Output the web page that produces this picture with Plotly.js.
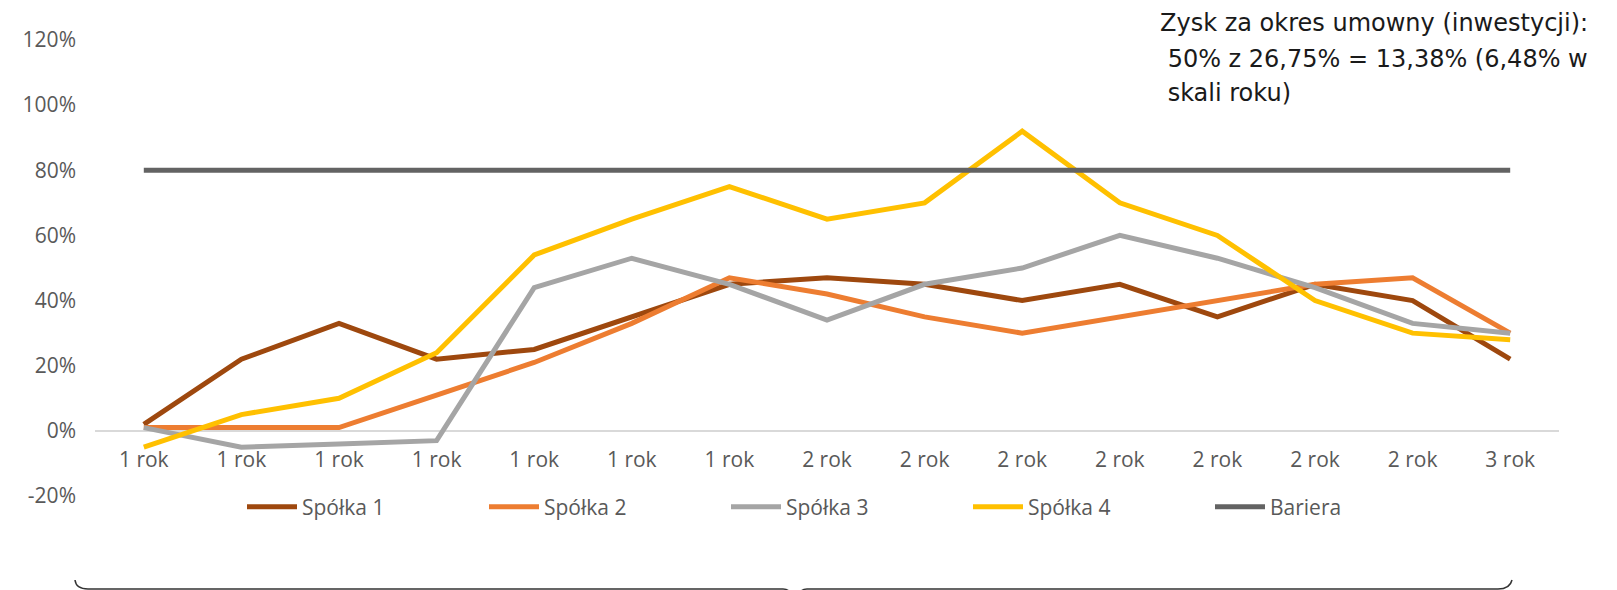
<!DOCTYPE html>
<html>
<head>
<meta charset="utf-8">
<script src="https://cdn.plot.ly/plotly-3.0.1.min.js"></script>
<style>html,body{margin:0;padding:0;background:#fff;}#chart{width:1617px;height:590px;}</style>
</head>
<body>
<div id="chart"></div>
<script>
// ---- data ----
const categories = ['1 rok','1 rok','1 rok','1 rok','1 rok','1 rok','1 rok','2 rok','2 rok','2 rok','2 rok','2 rok','2 rok','2 rok','3 rok'];
const spolka1 = [2, 22, 33, 22, 25, 35, 45, 47, 45, 40, 45, 35, 45, 40, 22];
const spolka2 = [1, 1, 1, 11, 21, 33, 47, 42, 35, 30, 35, 40, 45, 47, 30];
const spolka3 = [1, -5, -4, -3, 44, 53, 45, 34, 45, 50, 60, 53, 44, 33, 30];
const spolka4 = [-5, 5, 10, 24, 54, 65, 75, 65, 70, 92, 70, 60, 40, 30, 28];
const bariera = [80, 80, 80, 80, 80, 80, 80, 80, 80, 80, 80, 80, 80, 80, 80];
const seriesNames = ['Spółka 1', 'Spółka 2', 'Spółka 3', 'Spółka 4', 'Bariera'];
const yTickVals = [-20, 0, 20, 40, 60, 80, 100, 120];
const yTickText = ['-20%', '0%', '20%', '40%', '60%', '80%', '100%', '120%'];
const noteLines = ['Zysk za okres umowny (inwestycji):', '\u00a050% z 26,75% = 13,38% (6,48% w', '\u00a0skali roku)'];

// ---- styling ----
const colors = ['#9E480E', '#ED7D31', '#A5A5A5', '#FFC000', '#636363'];
const W = 1617, H = 590;
const M = {l: 95, r: 58, t: 40, b: 94};
const plotW = W - M.l - M.r, plotH = H - M.t - M.b;
const px2x = p => (p - M.l) / plotW;
const px2y = p => (H - M.b - p) / plotH;

const xIdx = categories.map((_, i) => i);
const allSeries = [spolka1, spolka2, spolka3, spolka4, bariera];
const traces = allSeries.map((s, k) => ({
  x: xIdx, y: s, type: 'scatter', mode: 'lines', name: seriesNames[k],
  line: {color: colors[k], width: 5}, hoverinfo: 'skip'
}));

const tickFont = {family: 'Open Sans, sans-serif', size: 21, color: '#595959'};

// brace path (pixel coords converted to paper)
function P(x, y) { return px2x(x).toFixed(5) + ',' + px2y(y).toFixed(5); }
const bracePath =
  'M' + P(75, 580) + ' Q' + P(76, 589) + ' ' + P(88, 589) +
  ' L' + P(783, 589) + ' Q' + P(790, 589) + ' ' + P(791, 596) +
  ' M' + P(799, 596) + ' Q' + P(800, 589) + ' ' + P(807, 589) +
  ' L' + P(1498, 589) + ' Q' + P(1510, 589) + ' ' + P(1512, 580);

const noteTops = [7, 43, 77];
const annotations = noteLines.map((t, i) => ({
  xref: 'paper', yref: 'paper', x: px2x(1158), y: px2y(noteTops[i]),
  xanchor: 'left', yanchor: 'top', align: 'left', showarrow: false,
  text: t, font: {family: 'DejaVu Sans, sans-serif', size: 24, color: '#1a1a1a'}
}));

const layout = {
  width: W, height: H,
  margin: M,
  paper_bgcolor: '#fff', plot_bgcolor: '#fff',
  showlegend: true,
  xaxis: {
    range: [-0.5, 14.5], tickvals: xIdx, ticktext: categories,
    showgrid: false, zeroline: false, showline: false, ticks: '',
    anchor: 'free', position: 20 / 140, tickfont: tickFont, ticklabelstandoff: 14,
    fixedrange: true
  },
  yaxis: {
    range: [-20, 120], tickvals: yTickVals, ticktext: yTickText,
    showgrid: false, zeroline: true, zerolinecolor: '#D9D9D9', zerolinewidth: 2,
    showline: false, ticks: '', tickfont: tickFont, ticklabelstandoff: 18,
    fixedrange: true
  },
  legend: {
    orientation: 'h', x: px2x(242), xanchor: 'left', y: px2y(507), yanchor: 'middle',
    font: tickFont, entrywidth: 177, entrywidthmode: 'pixels', itemwidth: 50,
    bgcolor: 'rgba(0,0,0,0)'
  },
  shapes: [{type: 'path', xref: 'paper', yref: 'paper', path: bracePath,
    line: {color: '#333333', width: 1.5}}],
  annotations: annotations
};

Plotly.newPlot('chart', traces, layout, {displayModeBar: false, staticPlot: true});
</script>
</body>
</html>
